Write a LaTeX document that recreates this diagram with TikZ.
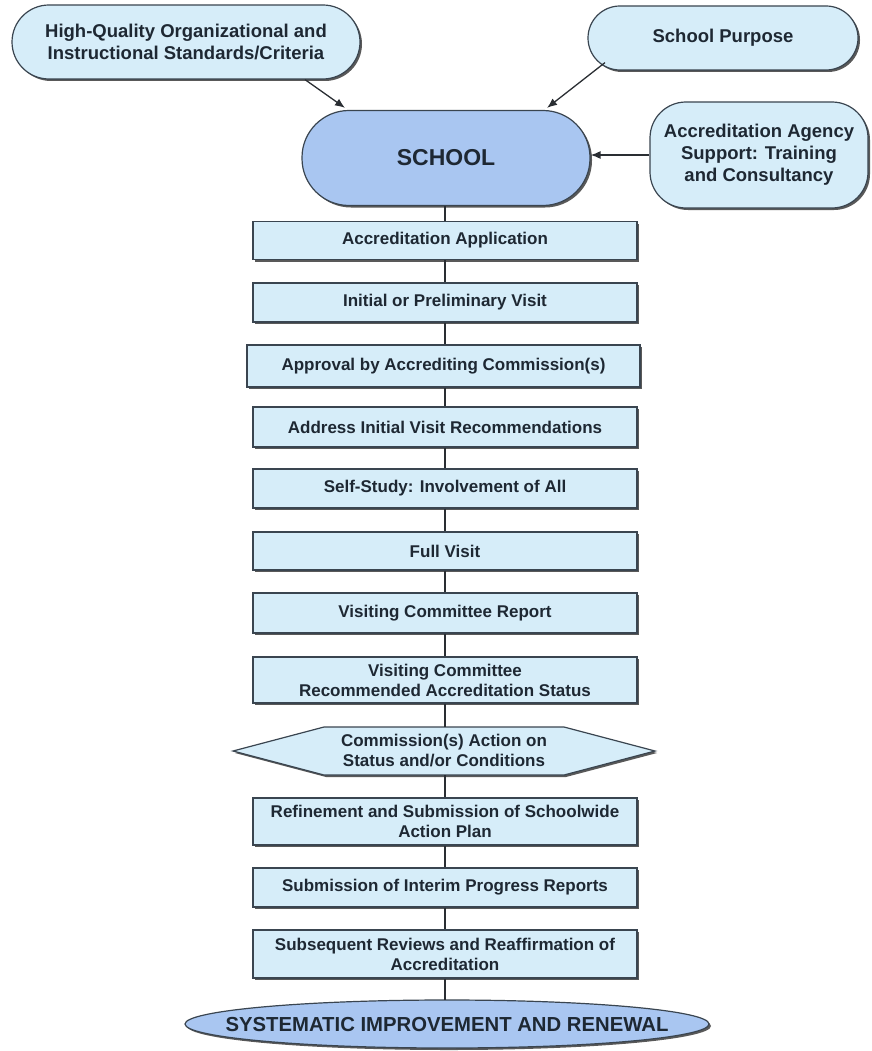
\documentclass[tikz,border=0pt]{standalone}
\usepackage{fontspec}
\setmainfont{Liberation Sans}
\usetikzlibrary{shadows,calc,arrows.meta,shapes.geometric}
\definecolor{boxfill}{HTML}{D6EDF9}
\definecolor{schoolfill}{HTML}{A9C6F1}
\definecolor{edge}{HTML}{3A4550}
\definecolor{txt}{HTML}{1E2833}
\definecolor{wire}{HTML}{2A2E33}
\tikzset{
  shad/.style={drop shadow={shadow xshift=2pt,shadow yshift=-2pt,fill=black!65,opacity=1}},
  base/.style={draw=edge, line width=1.2pt, shad, align=center, text=txt, inner sep=2pt},
  stepbox/.style={base, fill=boxfill, minimum width=384pt, minimum height=39pt,
    font=\bfseries\fontsize{17}{20}\selectfont},
  tallbox/.style={stepbox, minimum height=47pt},
  pill/.style={base, fill=boxfill, font=\bfseries\fontsize{18.5}{22}\selectfont},
  link/.style={draw=wire, line width=1.3pt},
  arr/.style={link, -{Latex[length=10pt,width=8pt]}}
}
\begin{document}
\begin{tikzpicture}[x=1pt,y=-1pt]
\useasboundingbox (0,0) rectangle (871,1051);

% top inputs
\node[pill, minimum width=348pt, minimum height=74pt, rounded corners=37pt] (hq) at (186,42)
  {High-Quality Organizational and\\Instructional Standards/Criteria};
\node[pill, minimum width=270pt, minimum height=64pt, rounded corners=32pt] (sp) at (723,38)
  {School Purpose};
\node[pill, minimum width=218pt, minimum height=106pt, rounded corners=36pt] (ag) at (759,155)
  {Accreditation Agency\\Support: Training\\and Consultancy};

\node[base, fill=schoolfill, minimum width=288pt, minimum height=95pt, rounded corners=47pt,
  font=\bfseries\fontsize{23}{26}\selectfont] (school) at (446,158) {SCHOOL};

% steps
\node[stepbox, minimum height=38pt] (s1) at (445,240.5) {Accreditation Application};
\node[stepbox] (s2) at (445,302.5) {Initial or Preliminary Visit};
\node[stepbox, minimum width=393pt, minimum height=42pt] (s3) at (443.5,366) {Approval by Accrediting Commission(s)};
\node[stepbox, minimum height=40pt] (s4) at (445,427) {Address Initial Visit Recommendations};
\node[stepbox] (s5) at (445,488.5) {Self-Study: Involvement of All};
\node[stepbox, minimum height=38pt] (s6) at (445,551) {Full Visit};
\node[stepbox, minimum height=40pt] (s7) at (445,613) {Visiting Committee Report};
\node[tallbox, minimum height=46pt] (s8) at (445,680) {Visiting Committee\\Recommended Accreditation Status};

% hexagon decision
\coordinate (hc) at (444,751);
\fill[black!65] ($(hc)+(-209,2)$) -- ++(91,-24) -- ++(240,0) -- ++(91,24) -- ++(-91,24) -- ++(-240,0) -- cycle;
\draw[draw=edge, line width=1.2pt, fill=boxfill] ($(hc)+(-211,0)$) -- ++(91,-24) -- ++(240,0) -- ++(91,24) -- ++(-91,24) -- ++(-240,0) -- cycle;
\node[align=center, text=txt, font=\bfseries\fontsize{17}{20}\selectfont, minimum width=240pt, minimum height=48pt, inner sep=0pt] (s9) at (hc)
  {Commission(s) Action on\\Status and/or Conditions};

\node[tallbox] (s10) at (445,821.5) {Refinement and Submission of Schoolwide\\Action Plan};
\node[stepbox] (s11) at (445,887.5) {Submission of Interim Progress Reports};
\node[tallbox, minimum height=48pt] (s12) at (445,954) {Subsequent Reviews and Reaffirmation of\\Accreditation};

% final ellipse
\coordinate (ec) at (447,1024);
\fill[black!65] ($(ec)+(2,2)$) ellipse [x radius=262pt, y radius=24pt];
\draw[draw=edge, line width=1.2pt, fill=schoolfill] (ec) ellipse [x radius=262pt, y radius=24pt];
\node[align=center, text=txt, minimum width=524pt, minimum height=48pt, inner sep=0pt,
  font=\bfseries\fontsize{20.3}{24}\selectfont] (end) at (ec) {SYSTEMATIC IMPROVEMENT AND RENEWAL};

% arrows into SCHOOL
\draw[arr] ([xshift=119pt]hq.south) -- ([xshift=-101pt,yshift=2pt]school.north);
\draw[arr] ([xshift=-118pt,yshift=8pt]sp.south) -- ([xshift=101pt,yshift=2pt]school.north);
\draw[arr] (ag.west) -- (ag.west -| school.east);

% vertical chain
\draw[link] (school.south -| s1.north) -- (s1.north);
\draw[link] (s1.south) -- (s2.north);
\draw[link] (s2.south) -- (s2.south |- s3.north);
\draw[link] (s3.south -| s4.north) -- (s4.north);
\draw[link] (s4.south) -- (s5.north);
\draw[link] (s5.south) -- (s6.north);
\draw[link] (s6.south) -- (s7.north);
\draw[link] (s7.south) -- (s8.north);
\draw[link] (s8.south) -- (s8.south |- s9.north);
\draw[link] (s9.south -| s10.north) -- (s10.north);
\draw[link] (s10.south) -- (s11.north);
\draw[link] (s11.south) -- (s12.north);
\draw[link] (s12.south) -- (s12.south |- end.north);
\end{tikzpicture}
\end{document}
